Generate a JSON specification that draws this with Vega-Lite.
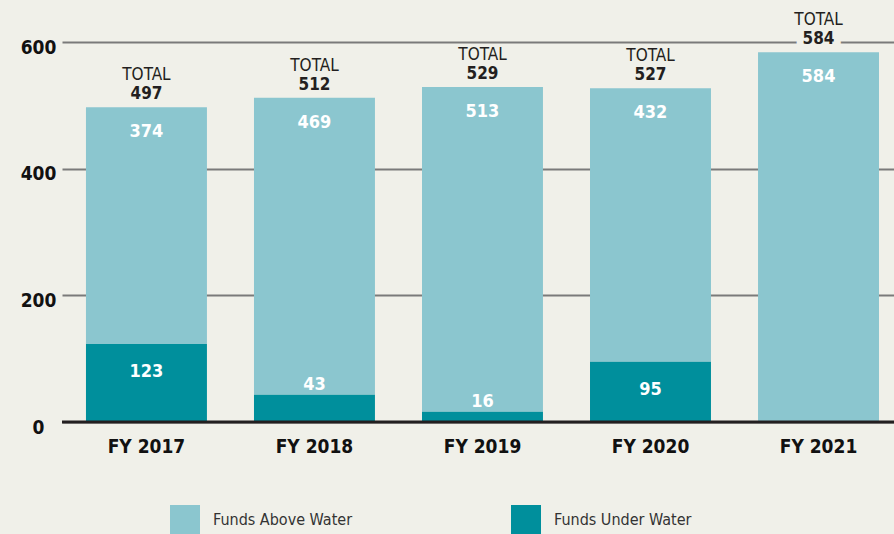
{
  "$schema": "https://vega.github.io/schema/vega-lite/v6.json",
  "autosize": {"type": "none"},
  "width": 832,
  "height": 380,
  "padding": {"left": 62, "top": 42, "right": 0, "bottom": 112},
  "background": "#f0f0e9",
  "config": {
    "view": {"stroke": null},
    "font": "'DejaVu Sans Condensed', 'DejaVu Sans', sans-serif",
    "text": {"font": "'DejaVu Sans Condensed', 'DejaVu Sans', sans-serif"}
  },
  "datasets": {
    "segments": [
      {"year": "FY 2017", "status": "Funds Above Water", "value": 374},
      {"year": "FY 2017", "status": "Funds Under Water", "value": 123},
      {"year": "FY 2018", "status": "Funds Above Water", "value": 469},
      {"year": "FY 2018", "status": "Funds Under Water", "value": 43},
      {"year": "FY 2019", "status": "Funds Above Water", "value": 513},
      {"year": "FY 2019", "status": "Funds Under Water", "value": 16},
      {"year": "FY 2020", "status": "Funds Above Water", "value": 432},
      {"year": "FY 2020", "status": "Funds Under Water", "value": 95},
      {"year": "FY 2021", "status": "Funds Above Water", "value": 584}
    ],
    "totals": [
      {"year": "FY 2017", "above": 374, "under": 123, "total": 497},
      {"year": "FY 2018", "above": 469, "under": 43, "total": 512},
      {"year": "FY 2019", "above": 513, "under": 16, "total": 529},
      {"year": "FY 2020", "above": 432, "under": 95, "total": 527},
      {"year": "FY 2021", "above": 584, "under": 0, "total": 584}
    ]
  },
  "encoding": {
    "x": {
      "field": "year",
      "type": "nominal",
      "scale": {"paddingInner": 0.28, "paddingOuter": 0.116, "align": 0.615},
      "axis": {
        "title": null,
        "labelAngle": 0,
        "domain": false,
        "ticks": false,
        "labelPadding": 15,
        "labelFontSize": 19,
        "labelFontWeight": "bold",
        "labelColor": "#111111",
        "labelFont": "'DejaVu Sans Condensed', 'DejaVu Sans', sans-serif"
      }
    }
  },
  "layer": [
    {
      "data": {"name": "segments"},
      "mark": {"type": "bar"},
      "encoding": {
        "y": {
          "field": "value",
          "type": "quantitative",
          "stack": "zero",
          "scale": {"domain": [0, 600], "nice": false},
          "axis": {
            "title": null,
            "values": [0, 200, 400, 600],
            "domain": false,
            "ticks": false,
            "grid": true,
            "gridColor": "#7a7a7a",
            "gridWidth": 2,
            "labelAlign": "center",
            "labelBaseline": "middle",
            "labelPadding": 24,
            "labelOffset": 5,
            "labelFontSize": 19,
            "labelFontWeight": "bold",
            "labelColor": "#111111",
            "labelFont": "'DejaVu Sans Condensed', 'DejaVu Sans', sans-serif"
          }
        },
        "color": {
          "field": "status",
          "type": "nominal",
          "scale": {"domain": ["Funds Above Water", "Funds Under Water"], "range": ["#8bc6cf", "#008f9c"]},
          "legend": {
            "title": null,
            "orient": "none",
            "legendX": 108,
            "legendY": 463,
            "direction": "horizontal",
            "symbolType": "square",
            "symbolSize": 900,
            "symbolStrokeWidth": 0,
            "symbolOpacity": 1,
            "labelFontSize": 16,
            "labelOffset": 13,
            "labelColor": "#333333",
            "labelFont": "'DejaVu Sans Condensed', 'DejaVu Sans', sans-serif",
            "columnPadding": 158,
            "padding": 0
          }
        },
        "order": {"field": "status", "sort": "descending"}
      }
    },
    {
      "data": {"values": [{}]},
      "mark": {"type": "rule", "color": "#231f20", "strokeWidth": 3},
      "encoding": {"y": {"datum": 0, "type": "quantitative"}, "x": null}
    },
    {
      "data": {"name": "totals"},
      "mark": {"type": "text", "color": "#ffffff", "fontSize": 18, "fontWeight": "bold", "baseline": "middle", "dy": 25},
      "encoding": {"y": {"field": "total", "type": "quantitative"}, "text": {"field": "above"}}
    },
    {
      "data": {"name": "totals"},
      "transform": [{"filter": "datum.under >= 50"}],
      "mark": {"type": "text", "color": "#ffffff", "fontSize": 18, "fontWeight": "bold", "baseline": "middle", "dy": 28},
      "encoding": {"y": {"field": "under", "type": "quantitative"}, "text": {"field": "under"}}
    },
    {
      "data": {"name": "totals"},
      "transform": [{"filter": "datum.under > 0 && datum.under < 50"}],
      "mark": {"type": "text", "color": "#ffffff", "fontSize": 18, "fontWeight": "bold", "baseline": "middle", "dy": -10},
      "encoding": {"y": {"field": "under", "type": "quantitative"}, "text": {"field": "under"}}
    },
    {
      "data": {"name": "totals"},
      "transform": [{"filter": "datum.total > 560"}],
      "mark": {"type": "text", "color": "#f0f0e9", "stroke": "#f0f0e9", "strokeWidth": 14, "fontSize": 17, "fontWeight": "bold", "baseline": "middle", "dy": -13},
      "encoding": {"y": {"field": "total", "type": "quantitative"}, "text": {"field": "total"}}
    },
    {
      "data": {"name": "totals"},
      "mark": {"type": "text", "color": "#231f20", "fontSize": 17, "fontWeight": "bold", "baseline": "middle", "dy": -13},
      "encoding": {"y": {"field": "total", "type": "quantitative"}, "text": {"field": "total"}}
    },
    {
      "data": {"name": "totals"},
      "mark": {"type": "text", "color": "#231f20", "fontSize": 17, "baseline": "middle", "dy": -32},
      "encoding": {"y": {"field": "total", "type": "quantitative"}, "text": {"value": "TOTAL"}}
    }
  ]
}
